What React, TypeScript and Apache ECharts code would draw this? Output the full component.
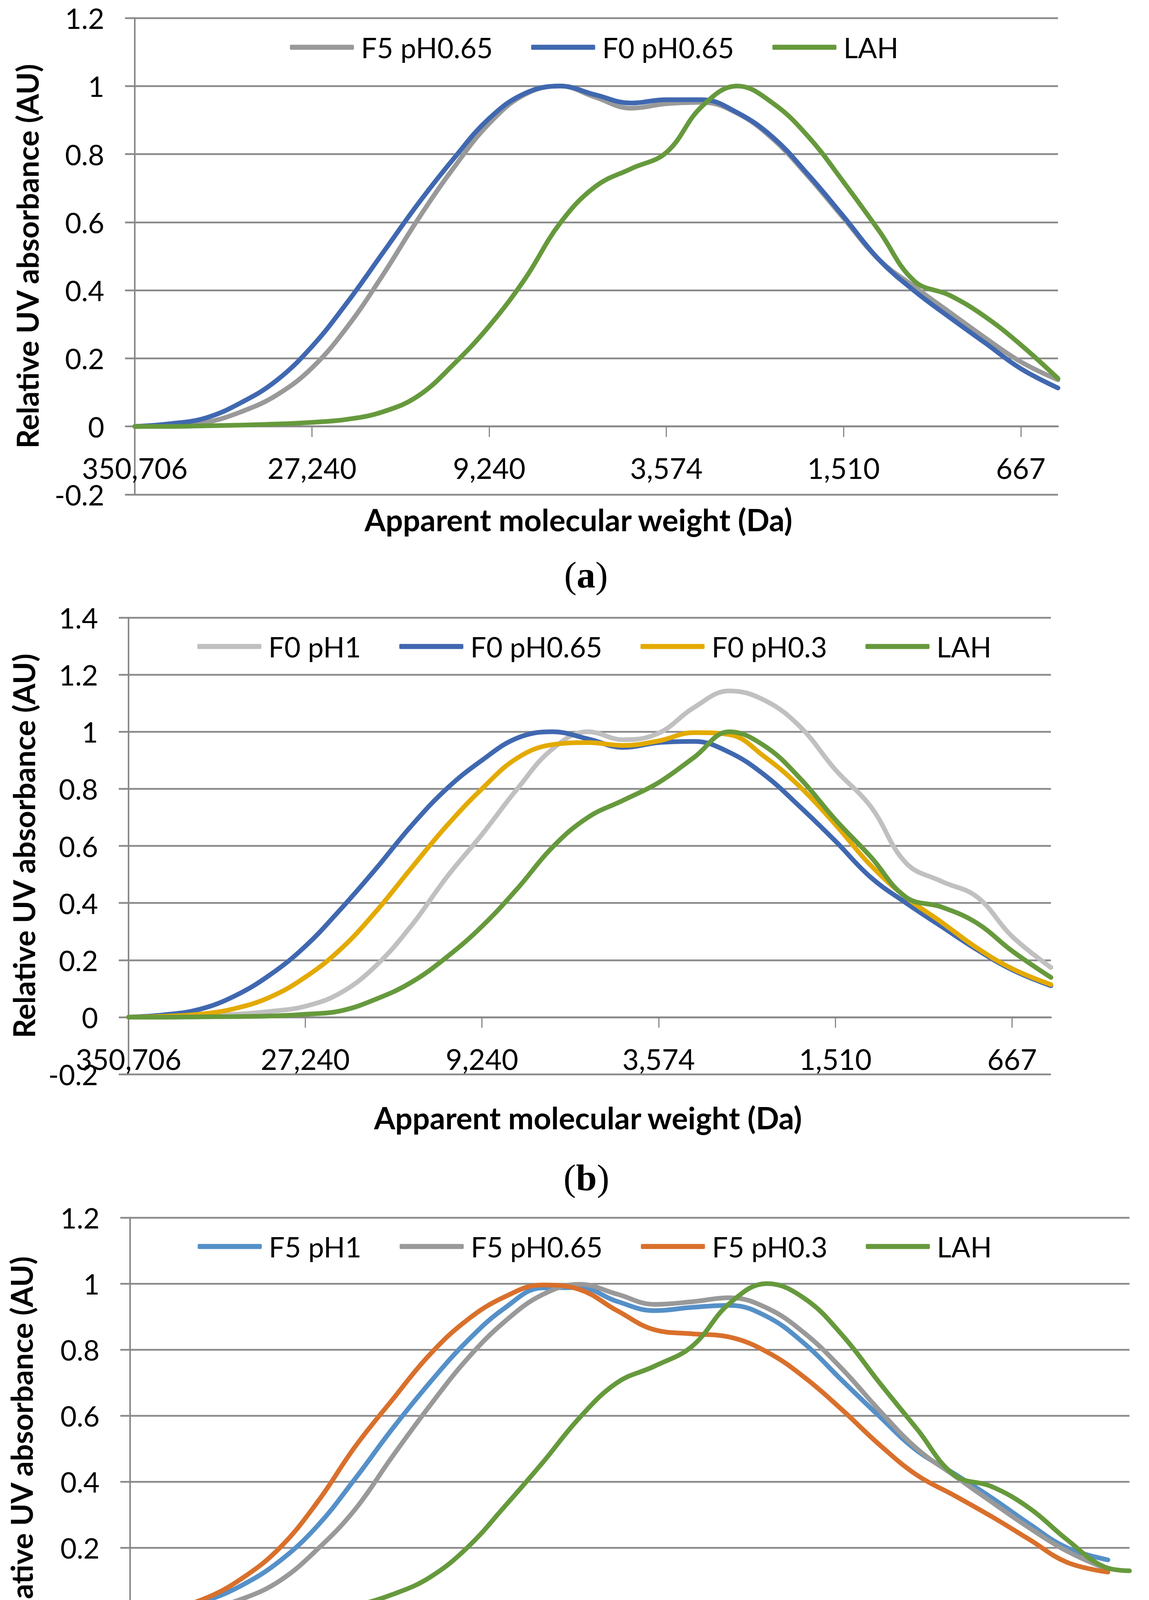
import React, { useEffect, useRef } from "react";
import * as echarts from "echarts";

// tick labels of the molecular weight axis (one per integer position)
const xTickLabels = ["350,706", "27,240", "9,240", "3,574", "1,510", "667"];

// positions along the x axis, in tick units
const xA = [0, 0.2, 0.4, 0.6, 0.8, 1, 1.2, 1.4, 1.6, 1.8, 2, 2.2, 2.4, 2.6, 2.8, 3, 3.2, 3.4, 3.6, 3.8, 4, 4.2, 4.4, 4.6, 4.8, 5, 5.21];
const xB = [0, 0.2, 0.4, 0.6, 0.8, 1, 1.2, 1.4, 1.6, 1.8, 2, 2.2, 2.4, 2.6, 2.8, 3, 3.2, 3.4, 3.6, 3.8, 4, 4.2, 4.4, 4.6, 4.8, 5, 5.22];
const xC = [0, 0.2, 0.4, 0.6, 0.8, 1, 1.2, 1.4, 1.6, 1.8, 2, 2.2, 2.4, 2.6, 2.8, 3, 3.2, 3.4, 3.6, 3.8, 4, 4.2, 4.4, 4.6, 4.8, 5, 5.22];
const xCLah = [0, 0.2, 0.4, 0.6, 0.8, 1, 1.2, 1.4, 1.6, 1.8, 2, 2.2, 2.4, 2.6, 2.8, 3, 3.2, 3.4, 3.6, 3.8, 4, 4.2, 4.4, 4.6, 4.8, 5, 5.2, 5.335];

// (a)
const aF5pH065 = [0, 0.003, 0.012, 0.043, 0.092, 0.172, 0.293, 0.445, 0.61, 0.76, 0.89, 0.975, 1.0, 0.967, 0.935, 0.948, 0.952, 0.92, 0.845, 0.735, 0.612, 0.49, 0.41, 0.335, 0.26, 0.19, 0.137];
const aF0pH065 = [0, 0.008, 0.025, 0.07, 0.135, 0.235, 0.365, 0.51, 0.655, 0.787, 0.905, 0.978, 1.0, 0.974, 0.95, 0.96, 0.96, 0.922, 0.85, 0.74, 0.617, 0.49, 0.398, 0.32, 0.245, 0.17, 0.113];
const aLAH = [0, 0, 0.002, 0.004, 0.007, 0.012, 0.021, 0.043, 0.09, 0.183, 0.295, 0.432, 0.597, 0.705, 0.757, 0.805, 0.94, 1.0, 0.95, 0.852, 0.718, 0.575, 0.427, 0.385, 0.322, 0.24, 0.141];

// (b)
const bF0pH1 = [0, 0, 0.004, 0.01, 0.02, 0.038, 0.085, 0.18, 0.32, 0.49, 0.64, 0.8, 0.94, 1.0, 0.972, 0.995, 1.085, 1.143, 1.11, 1.018, 0.867, 0.738, 0.54, 0.476, 0.422, 0.283, 0.174];
const bF0pH065 = [0, 0.008, 0.027, 0.074, 0.148, 0.248, 0.378, 0.52, 0.67, 0.8, 0.9, 0.978, 1.0, 0.975, 0.945, 0.962, 0.966, 0.928, 0.848, 0.737, 0.617, 0.49, 0.4, 0.318, 0.237, 0.166, 0.11];
const bF0pH03 = [0, 0.003, 0.01, 0.03, 0.07, 0.14, 0.238, 0.37, 0.522, 0.67, 0.8, 0.908, 0.955, 0.962, 0.952, 0.968, 0.997, 0.99, 0.912, 0.807, 0.675, 0.532, 0.42, 0.333, 0.243, 0.17, 0.114];
const bLAH = [0, 0, 0.001, 0.002, 0.004, 0.01, 0.022, 0.063, 0.122, 0.21, 0.318, 0.45, 0.596, 0.7, 0.76, 0.822, 0.91, 1.0, 0.95, 0.837, 0.692, 0.562, 0.42, 0.386, 0.33, 0.232, 0.139];

// (c)
const cF5pH1 = [0, 0.01, 0.038, 0.087, 0.16, 0.266, 0.408, 0.56, 0.7, 0.826, 0.926, 0.987, 0.988, 0.946, 0.918, 0.928, 0.934, 0.9, 0.818, 0.707, 0.598, 0.494, 0.424, 0.351, 0.272, 0.2, 0.163];
const cF5pH065 = [0, 0.004, 0.015, 0.045, 0.1, 0.195, 0.315, 0.476, 0.63, 0.772, 0.885, 0.966, 0.998, 0.968, 0.937, 0.945, 0.957, 0.926, 0.85, 0.742, 0.616, 0.5, 0.418, 0.338, 0.26, 0.19, 0.134];
const cF5pH03 = [0, 0.014, 0.046, 0.108, 0.2, 0.338, 0.505, 0.648, 0.785, 0.89, 0.96, 0.996, 0.982, 0.918, 0.86, 0.848, 0.838, 0.793, 0.716, 0.618, 0.512, 0.42, 0.358, 0.294, 0.225, 0.156, 0.126];
const cLAH = [0, 0, 0.001, 0.002, 0.004, 0.009, 0.025, 0.058, 0.11, 0.2, 0.325, 0.456, 0.594, 0.7, 0.75, 0.81, 0.94, 1.0, 0.955, 0.845, 0.7, 0.56, 0.42, 0.385, 0.32, 0.225, 0.142, 0.13];

const FONT = "Lato";
const GRID_GRAY = "#898989";

const colors = {
  gray: "#999999",
  blue: "#4068b0",
  green: "#66993c",
  lightGray: "#c0c0c0",
  yellow: "#e3aa00",
  lightBlue: "#5590c8",
  orange: "#d9702c",
};

const pairs = (xs: number[], ys: number[]) => xs.map((x, i) => [x, ys[i]]);

const line = (name: string, color: string, xs: number[], ys: number[], idx: number) => ({
  name,
  type: "line",
  xAxisIndex: idx,
  yAxisIndex: idx,
  data: pairs(xs, ys),
  smooth: 0.4,
  showSymbol: false,
  symbol: "none",
  lineStyle: { color, width: 12, cap: "round" },
  itemStyle: { color },
});

// labels and name are laid out from the bottom edge of the grid,
// so the margins below are measured from there (negative = up toward zero)
const xAxis = (idx: number, max: number, labelMargin: number, nameGap: number, namePad: number[]) => ({
  type: "value",
  gridIndex: idx,
  min: 0,
  max,
  name: "Apparent molecular weight (Da)",
  nameLocation: "middle",
  nameGap,
  nameTextStyle: {
    fontFamily: FONT,
    fontWeight: "bold",
    fontSize: 78,
    color: "#000",
    padding: namePad,
  },
  splitLine: { show: false },
  axisLine: { onZero: true, lineStyle: { color: GRID_GRAY, width: 4.5 } },
  axisTick: {
    customValues: [0, 1, 2, 3, 4, 5],
    length: 27,
    lineStyle: { color: GRID_GRAY, width: 3 },
  },
  axisLabel: {
    customValues: [0, 1, 2, 3, 4, 5],
    formatter: (v: number) => xTickLabels[Math.round(v)] ?? "",
    margin: labelMargin,
    fontFamily: FONT,
    fontSize: 73,
    color: "#000",
  },
});

const yAxis = (idx: number, max: number, nameGap: number) => ({
  type: "value",
  gridIndex: idx,
  min: -0.2,
  max,
  interval: 0.2,
  name: "Relative UV absorbance (AU)",
  nameLocation: "middle",
  nameRotate: 90,
  nameGap,
  nameTextStyle: { fontFamily: FONT, fontWeight: "bold", fontSize: 77, color: "#000" },
  axisLine: { show: true, onZero: false, lineStyle: { color: GRID_GRAY, width: 4 } },
  axisTick: { show: true, length: 25, lineStyle: { color: GRID_GRAY, width: 4.5 } },
  splitLine: { show: true, lineStyle: { color: GRID_GRAY, width: 4.5 } },
  axisLabel: { margin: 78, fontFamily: FONT, fontSize: 72, color: "#000" },
});

const legend = (names: string[], left: number, top: number) => ({
  data: names,
  left,
  top,
  padding: 0,
  itemGap: 98,
  itemWidth: 164,
  itemHeight: 13,
  icon: "roundRect",
  textStyle: { fontFamily: FONT, fontSize: 72, color: "#000", padding: [0, 0, 0, 13] },
});

const caption = (letter: string, x: number, y: number) => ({
  type: "text",
  x,
  y,
  style: {
    text: `{p|(}{b|${letter}}{p|)}`,
    align: "center",
    verticalAlign: "middle",
    rich: {
      p: { fontFamily: "Liberation Serif", fontSize: 96, fill: "#000" },
      b: { fontFamily: "Liberation Serif", fontSize: 96, fontWeight: "bold", fill: "#000" },
    },
  },
});

const App = () => {
  const chartRef = useRef<HTMLDivElement>(null);

  useEffect(() => {
    if (!chartRef.current) return;
    const chart = echarts.init(chartRef.current, undefined, { renderer: "svg" });

    const option = {
      animation: false,
      backgroundColor: "#ffffff",
      textStyle: { fontFamily: FONT },
      grid: [
        { left: 345, top: 46, width: 2363, height: 1220 },
        { left: 329, top: 1581, width: 2361, height: 1169 },
        { left: 333, top: 3117, width: 2558, height: 1183 },
      ],
      xAxis: [
        xAxis(0, 5.21, -105, 25, [0, 92, 0, 0]),
        xAxis(1, 5.22, -76, 72, [0, 9, 0, 0]),
        xAxis(2, 5.335, -100, 60, [0, 0, 0, 116]),
      ],
      yAxis: [yAxis(0, 1.2, 238), yAxis(1, 1.4, 231), yAxis(2, 1.2, 241)],
      legend: [
        legend(["F5 pH0.65", "F0 pH0.65", "LAH"], 742, 85),
        legend(["F0 pH1", "F0 pH0.65", "F0 pH0.3", "LAH"], 505, 1619),
        legend(["F5 pH1", "F5 pH0.65", "F5 pH0.3", "LAH"], 506, 3155),
      ],
      graphic: [caption("a", 1500, 1471), caption("b", 1501, 3014), caption("c", 1501, 4548)],
      series: [
        line("F5 pH0.65", colors.gray, xA, aF5pH065, 0),
        line("F0 pH0.65", colors.blue, xA, aF0pH065, 0),
        line("LAH", colors.green, xA, aLAH, 0),

        line("F0 pH1", colors.lightGray, xB, bF0pH1, 1),
        line("F0 pH0.65", colors.blue, xB, bF0pH065, 1),
        line("F0 pH0.3", colors.yellow, xB, bF0pH03, 1),
        line("LAH", colors.green, xB, bLAH, 1),

        line("F5 pH1", colors.lightBlue, xC, cF5pH1, 2),
        line("F5 pH0.65", colors.gray, xC, cF5pH065, 2),
        line("F5 pH0.3", colors.orange, xC, cF5pH03, 2),
        line("LAH", colors.green, xCLah, cLAH, 2),
      ],
    };

    chart.setOption(option as any);

    return () => {
      chart.dispose();
    };
  }, []);

  return (
    <div
      ref={chartRef}
      style={{
        position: "absolute",
        left: 0,
        top: 0,
        width: 2941,
        height: 4615,
        backgroundColor: "#fff",
      }}
    />
  );
};

export default App;
